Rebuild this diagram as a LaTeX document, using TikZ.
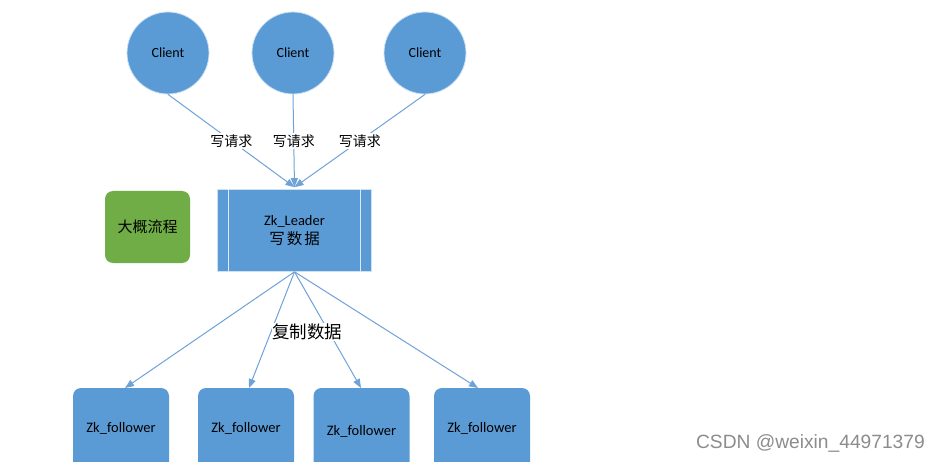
\documentclass[tikz,border=0pt]{standalone}
\usepackage{fontspec}
\setmainfont{Carlito}
\newfontfamily\cjk{Noto Sans CJK SC}
\newfontfamily\wmfont{Liberation Sans}
\usetikzlibrary{arrows.meta,calc}
\definecolor{obl}{HTML}{5B9BD5}
\definecolor{ogr}{HTML}{70AD47}
\definecolor{oln}{HTML}{6FA3D8}
\begin{document}
\begin{tikzpicture}[x=1pt,y=-1pt,
  client/.style={circle,fill=obl,draw=white!70!obl,line width=0.8pt,minimum size=82pt,inner sep=0pt,font=\fontsize{14}{15}\selectfont},
  follower/.style={rectangle,rounded corners=8pt,fill=obl,minimum width=96pt,minimum height=88pt,inner sep=0pt,font=\fontsize{14.5}{16}\selectfont},
  conn/.style={draw=oln,line width=1pt},
  arr/.style={conn,-{Triangle[length=9pt,width=7pt]}},
  reqlabel/.style={fill=white,inner sep=1.5pt,font=\cjk\fontsize{14}{16}\selectfont}
]
\useasboundingbox (0,0) rectangle (941,462);
\fill[white] (0,0) rectangle (941,462);

% clients
\node[client] (c1) at (168,53) {Client};
\node[client] (c2) at (293,53) {Client};
\node[client] (c3) at (425,53) {Client};

% leader
\node[rectangle,fill=obl,draw=white!70!obl,line width=0.6pt,minimum width=154pt,minimum height=82pt,inner sep=0pt,align=center,font=\fontsize{14.5}{17}\selectfont] (L) at (294.5,230.5) {Zk\_Leader\\[2pt]{\cjk\fontsize{15.5}{17}\selectfont 写\kern2pt 数\kern2pt 据}};
\draw[white!80!obl,line width=1pt] ([xshift=11.5pt]L.north west) -- ([xshift=11.5pt]L.south west);
\draw[white!80!obl,line width=1pt] ([xshift=-11.5pt]L.north east) -- ([xshift=-11.5pt]L.south east);

% overview box
\node[rectangle,rounded corners=8pt,fill=ogr,minimum width=85pt,minimum height=72pt,inner sep=0pt,font=\cjk\fontsize{15}{17}\selectfont] (G) at (147.5,227) {大概流程};

% followers
\node[follower] (f1) at (121,432) {\raisebox{10pt}{Zk\_follower}};
\node[follower] (f2) at (246,432) {\raisebox{10pt}{Zk\_follower}};
\node[follower] (f3) at (361.5,432) {\raisebox{4pt}{Zk\_follower}};
\node[follower] (f4) at (482,432) {\raisebox{10pt}{Zk\_follower}};

% request arrows
\coordinate (ltop) at ([yshift=2pt]L.north);
\draw[arr] (c1.south) -- node[reqlabel,pos=0.5] (r1) {写请求} (ltop);
\draw[arr] (c2.south) -- node[reqlabel,pos=0.5] (r2) {写请求} (ltop);
\draw[arr] (c3.south) -- node[reqlabel,pos=0.5] (r3) {写请求} (ltop);

% replication arrows
\coordinate (t1) at (125,388);
\coordinate (t2) at (249,388);
\coordinate (t3) at (361,388);
\coordinate (t4) at (478,388);
\draw[arr] (L.south) -- (t1);
\draw[arr] (L.south) -- (t2);
\draw[arr] (L.south) -- (t3);
\draw[arr] (L.south) -- (t4);
\node[fill=white,inner sep=0.5pt,font=\cjk\fontsize{17.5}{19}\selectfont] (rep) at (307,332) {复制数据};

% watermark
\node[text=black!45,font=\wmfont\fontsize{19.2}{21}\selectfont,anchor=east,inner sep=0pt] (wm) at (925,443) {CSDN @weixin\_44971379};
\end{tikzpicture}
\end{document}
